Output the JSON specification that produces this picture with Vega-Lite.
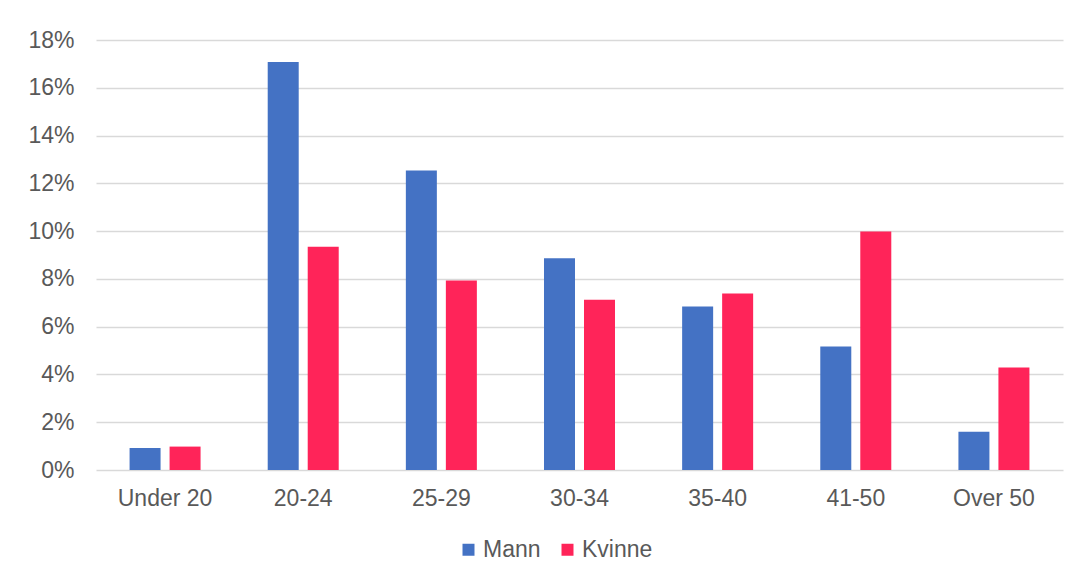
{
  "$schema": "https://vega.github.io/schema/vega-lite/v6.json",
  "autosize": "none",
  "width": 967,
  "height": 430,
  "padding": {"left": 96, "top": 40, "right": 15, "bottom": 112},
  "background": "#ffffff",
  "data": {
    "values": [
      {"age": "Under 20", "sex": "Mann", "value": 0.0092},
      {"age": "Under 20", "sex": "Kvinne", "value": 0.0098},
      {"age": "20-24", "sex": "Mann", "value": 0.1708},
      {"age": "20-24", "sex": "Kvinne", "value": 0.0935},
      {"age": "25-29", "sex": "Mann", "value": 0.1254},
      {"age": "25-29", "sex": "Kvinne", "value": 0.0793},
      {"age": "30-34", "sex": "Mann", "value": 0.0886},
      {"age": "30-34", "sex": "Kvinne", "value": 0.0713},
      {"age": "35-40", "sex": "Mann", "value": 0.0684},
      {"age": "35-40", "sex": "Kvinne", "value": 0.0739},
      {"age": "41-50", "sex": "Mann", "value": 0.0517},
      {"age": "41-50", "sex": "Kvinne", "value": 0.0998},
      {"age": "Over 50", "sex": "Mann", "value": 0.0160},
      {"age": "Over 50", "sex": "Kvinne", "value": 0.0429}
    ]
  },
  "mark": {"type": "bar"},
  "encoding": {
    "x": {
      "field": "age",
      "type": "nominal",
      "sort": ["Under 20", "20-24", "25-29", "30-34", "35-40", "41-50", "Over 50"],
      "scale": {"paddingInner": 0.486, "paddingOuter": 0.243},
      "axis": {
        "title": null,
        "labelAngle": 0,
        "domain": false,
        "ticks": false,
        "labelPadding": 17,
        "labelFontSize": 23,
        "labelFont": "Liberation Sans",
        "labelColor": "#595959"
      }
    },
    "xOffset": {
      "field": "sex",
      "type": "nominal",
      "sort": ["Mann", "Kvinne"],
      "scale": {"paddingInner": 0.225, "paddingOuter": 0}
    },
    "y": {
      "field": "value",
      "type": "quantitative",
      "scale": {"domain": [0, 0.18], "nice": false},
      "axis": {
        "title": null,
        "values": [0, 0.02, 0.04, 0.06, 0.08, 0.1, 0.12, 0.14, 0.16, 0.18],
        "format": ".0%",
        "domain": false,
        "ticks": false,
        "labelPadding": 22,
        "labelFontSize": 23,
        "labelFont": "Liberation Sans",
        "labelColor": "#595959",
        "gridColor": "#D9D9D9",
        "gridWidth": 1.5
      }
    },
    "color": {
      "field": "sex",
      "type": "nominal",
      "sort": ["Mann", "Kvinne"],
      "scale": {"domain": ["Mann", "Kvinne"], "range": ["#4472C4", "#FF2459"]},
      "legend": {
        "title": null,
        "orient": "none",
        "legendX": 361,
        "legendY": 498,
        "direction": "horizontal",
        "symbolType": "square",
        "symbolSize": 144,
        "symbolStrokeWidth": 0,
        "labelFontSize": 23,
        "labelFont": "Liberation Sans",
        "labelColor": "#595959",
        "labelOffset": 3,
        "columnPadding": 15
      }
    }
  },
  "config": {
    "view": {"stroke": null}
  }
}
